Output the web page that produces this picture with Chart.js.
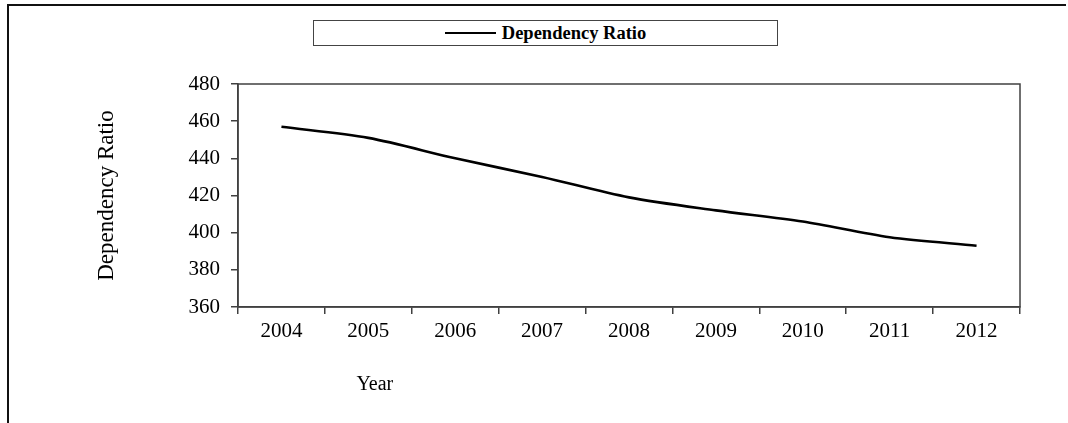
<!DOCTYPE html>
<html>
<head>
<meta charset="utf-8">
<script src="https://cdn.jsdelivr.net/npm/chart.js@4.4.1/dist/chart.umd.min.js"></script>
<style>
  html, body { margin: 0; padding: 0; background: #fff; overflow: hidden; }
  #wrap { position: relative; width: 1068px; height: 423px; }
  #frame {
    position: absolute; left: 7px; top: 4px; right: 2px; bottom: 0;
    border-left: 2px solid #111; border-top: 2px solid #111;
  }
  #chartBox { position: absolute; left: 0; top: 0; width: 1068px; height: 423px; }
  #legend {
    position: absolute; left: 313px; top: 20px; width: 463px; height: 24px;
    border: 1.5px solid #444; background: #fff;
    display: flex; align-items: center; justify-content: center;
    font: bold 18.5px "Liberation Serif", "Times New Roman", serif; color: #000;
  }
  #legend .swatch { display: inline-block; width: 51px; height: 2.5px; background: #000; margin-right: 6px; }
</style>
</head>
<body>
<div id="wrap">
  <div id="frame"></div>
  <div id="chartBox"><canvas id="chart"></canvas></div>
  <div id="legend"></div>
</div>
<script>
const years = ['2004', '2005', '2006', '2007', '2008', '2009', '2010', '2011', '2012'];
const dependencyRatio = [457, 451, 440, 430, 419, 412, 406, 397.5, 393];
const yTicks = [360, 380, 400, 420, 440, 460, 480];

const serif = '"Liberation Serif", "Times New Roman", serif';
const axisColor = '#404040';

// full box around the plot area, like the spreadsheet original
const plotFrame = {
  id: 'plotFrame',
  beforeDatasetsDraw(chart) {
    const { ctx, chartArea: a } = chart;
    ctx.save();
    ctx.strokeStyle = axisColor;
    ctx.lineWidth = 1.5;
    ctx.strokeRect(a.left, a.top, a.right - a.left, a.bottom - a.top);
    ctx.restore();
  },
};

// x title sits left of centre in the reference
const yearTitle = {
  id: 'yearTitle',
  afterDraw(chart) {
    const { ctx, chartArea: a } = chart;
    ctx.save();
    ctx.font = `20px ${serif}`;
    ctx.fillStyle = '#000';
    ctx.textAlign = 'center';
    ctx.textBaseline = 'middle';
    ctx.fillText('Year', a.left + (a.right - a.left) * 0.175, 385);
    ctx.restore();
  },
};

const chart = new Chart(document.getElementById('chart').getContext('2d'), {
  type: 'line',
  data: {
    labels: years,
    datasets: [{
      label: 'Dependency Ratio',
      data: dependencyRatio,
      borderColor: '#000',
      borderWidth: 2.6,
      tension: 0.3,
      pointRadius: 0,
      fill: false,
    }],
  },
  options: {
    responsive: true,
    maintainAspectRatio: false,
    animation: false,
    layout: { padding: { top: 84, right: 48, left: 0, bottom: 0 } },
    plugins: {
      legend: { display: false },
      tooltip: { enabled: false },
    },
    scales: {
      x: {
        offset: true,
        afterFit(scale) { scale.height = 116; },
        grid: {
          offset: true,
          drawOnChartArea: false,
          drawTicks: true,
          tickLength: 7,
          color: axisColor,
          lineWidth: 1.5,
        },
        border: { color: axisColor, width: 1.5 },
        ticks: {
          color: '#000',
          padding: 5,
          maxRotation: 0,
          font: { family: serif, size: 21 },
        },
      },
      y: {
        min: 360,
        max: 480,
        afterFit(scale) { scale.width = 238; },
        afterBuildTicks(scale) { scale.ticks = yTicks.map(v => ({ value: v })); },
        grid: {
          drawOnChartArea: false,
          drawTicks: true,
          tickLength: 7,
          color: axisColor,
          lineWidth: 1.5,
        },
        border: { color: axisColor, width: 1.5 },
        ticks: {
          color: '#000',
          padding: 11,
          font: { family: serif, size: 21 },
        },
        title: {
          display: true,
          text: 'Dependency Ratio',
          color: '#000',
          font: { family: serif, size: 23 },
          padding: { top: 93, bottom: 0 },
        },
      },
    },
  },
  plugins: [plotFrame, yearTitle],
});

// legend box built from the dataset
const legendEl = document.getElementById('legend');
chart.data.datasets.forEach(ds => {
  const sw = document.createElement('span');
  sw.className = 'swatch';
  const txt = document.createElement('span');
  txt.textContent = ds.label;
  legendEl.appendChild(sw);
  legendEl.appendChild(txt);
});
</script>
</body>
</html>
